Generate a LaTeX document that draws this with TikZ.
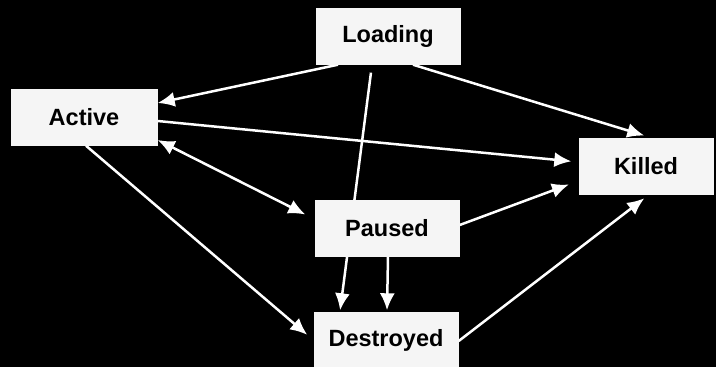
\documentclass[tikz,border=0pt]{standalone}
\usepackage{fontspec}
\setmainfont{Liberation Sans}
\usetikzlibrary{arrows.meta,backgrounds}

\begin{document}
\begin{tikzpicture}
        [
            x                       = 1pt,
            y                       = -1pt,
            boxed/.style            = {shape=rectangle, fill=gray!8, text=black, align=center,
                                       minimum width=145pt, minimum height=57pt, inner sep=0pt},
            trans/.style            = {draw=white, line width=2.5pt,
                                       -{Latex[length=17pt,width=15pt]}},
            every node/.style       = {font=\fontsize{23.5}{27}\selectfont\bfseries},
        ]
        \begin{scope}[on background layer]
            \fill [black] (0,0) rectangle (716,367);
        \end{scope}
        \useasboundingbox (0,0) rectangle (716,367);

        \node [boxed] (loading)   at (388,36)  {Loading};
        \node [boxed, minimum width=147pt] (active) at (84,117) {Active};
        \node [boxed, minimum width=135pt] (killed) at (646,166) {Killed};
        \node [boxed] (paused)    at (387,228) {Paused};
        \node [boxed] (destroyed) at (386,340) {Destroyed};

        \begin{scope}[on background layer]
            \draw [trans] ([xshift=-50pt]loading.south) -- ([yshift=14pt]active.east);
            \draw [trans, shorten >=6pt] ([xshift=25pt]loading.south) -- ([xshift=4pt]killed.north);
            \draw [trans, shorten >=7pt] ([yshift=-4pt]active.east) -- ([yshift=4pt]killed.west);
            \draw [trans, {Latex[length=17pt,width=15pt]}-{Latex[length=17pt,width=15pt]}, shorten >=10pt]
                ([yshift=-23pt]active.east) -- ([yshift=9pt]paused.west);
            \draw [trans, shorten >=8pt] ([xshift=2pt]active.south) -- (destroyed.west);
            \draw [trans, shorten <=8pt, shorten >=1pt] ([xshift=-16pt]loading.south) -- ([xshift=-46pt]destroyed.north);
            \draw [trans, shorten >=1pt] ([xshift=1pt]paused.south) -- ([xshift=1pt]destroyed.north);
            \draw [trans, shorten >=10pt] ([yshift=3pt]paused.east) -- ([yshift=-15pt]killed.west);
            \draw [trans, shorten >=6pt] ([yshift=-1pt]destroyed.east) -- ([xshift=3pt]killed.south);
        \end{scope}
    \end{tikzpicture}
\end{document}
